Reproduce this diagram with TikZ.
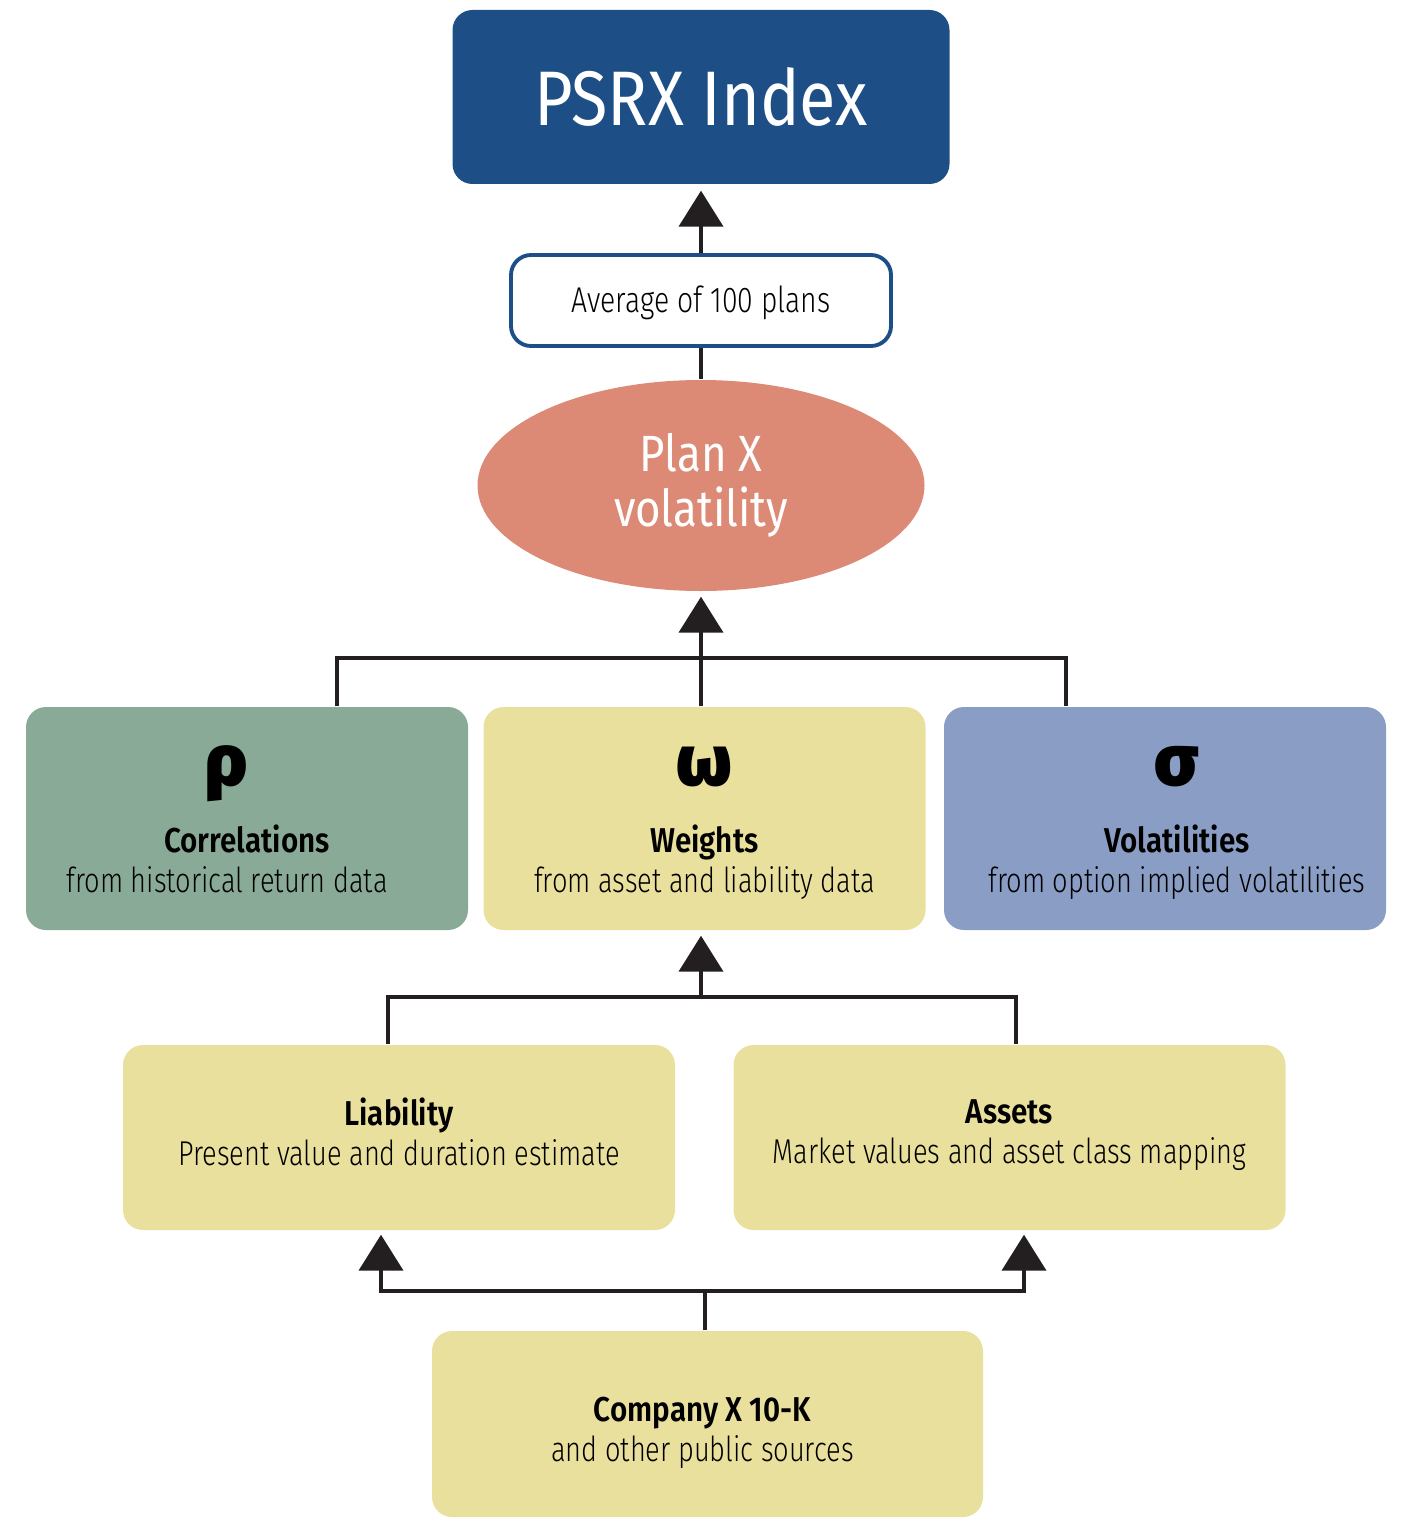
\documentclass[tikz,border=0pt]{standalone}
\usepackage{fontspec}
\setmainfont{Fira Sans}[FakeStretch=0.86, BoldFont=* SemiBold]
\newfontfamily\lightfont{Fira Sans Light}[FakeStretch=0.79]
\newfontfamily\greekfont{Fira Sans Black}
\usetikzlibrary{arrows.meta,shapes.geometric}

\begin{document}
\begin{tikzpicture}[>={Triangle[length=0.36cm,width=0.44cm]},
		box/.style={rounded corners=0.2cm, inner sep=0pt, align=center, text=black},
		conn/.style={draw=linedark, line width=1.2pt},
		title/.style={font=\fontsize{9.8}{11.4}\selectfont}]
		\definecolor{psrxblue}{RGB}{29,78,133}
		\definecolor{salmon}{RGB}{220,138,118}
		\definecolor{sage}{RGB}{138,170,152}
		\definecolor{straw}{RGB}{234,224,158}
		\definecolor{slate}{RGB}{138,157,196}
		\definecolor{linedark}{RGB}{35,31,32}
		\newcommand{\greekline}[1]{{\greekfont\fontsize{20.5}{20.5}\selectfont\rule{0pt}{15.1pt}#1\vphantom{ρ}}}
		\useasboundingbox (0,0) rectangle (14.24,-15.36);
		
		% top part
		\node[box, fill=psrxblue, text=white, minimum width=4.97cm, minimum height=1.74cm,
			font=\fontsize{22}{26}\selectfont] (psrx) at (7.01,-0.97) {PSRX Index};
		\node[box, fill=white, draw=psrxblue, line width=1.1pt, minimum width=3.80cm, minimum height=0.91cm,
			font=\lightfont\fontsize{10.2}{12}\selectfont] (avg) at (7.01,-3.005) {\rule[-3.6pt]{0pt}{14pt}Average of 100 plans};
		\node[ellipse, fill=salmon, text=white, inner sep=0pt, minimum width=4.47cm, minimum height=2.11cm,
			align=center, font=\fontsize{14.5}{15.6}\selectfont] (plan) at (7.01,-4.855) {Plan X\\volatility};
		
		% the three inputs (text of the outer two sits a bit off centre)
		\node[box, fill=sage, minimum width=4.42cm, minimum height=2.23cm, title] (corr) at (2.47,-8.185)
			{\greekline{ρ}\hspace*{0.4cm}\\[5.5pt]\textbf{Correlations}\hspace*{0.4cm}\\{\lightfont from historical return data\strut}\hspace*{0.4cm}};
		\node[box, fill=straw, minimum width=4.42cm, minimum height=2.23cm, title] (weights) at (7.045,-8.185)
			{\greekline{ω}\\[5.5pt]\textbf{Weights}\\{\lightfont from asset and liability data\strut}};
		\node[box, fill=slate, minimum width=4.42cm, minimum height=2.23cm, title] (vol) at (11.65,-8.185)
			{\hspace*{0.24cm}\greekline{σ}\\[5.5pt]\hspace*{0.24cm}\textbf{Volatilities}\\\hspace*{0.24cm}{\lightfont from option implied volatilities\strut}};
		
		% weights inputs
		\node[box, fill=straw, minimum width=5.52cm, minimum height=1.85cm, title] (liab) at (3.99,-11.375)
			{\textbf{Liability}\\{\lightfont Present value and duration estimate\strut}};
		\node[box, fill=straw, minimum width=5.52cm, minimum height=1.85cm, title] (assets) at (10.095,-11.375)
			{\textbf{Assets}\\{\lightfont Market values and asset class mapping\strut}};
		\node[box, fill=straw, minimum width=5.51cm, minimum height=1.86cm, title] (comp) at (7.075,-14.24)
			{\rule{0pt}{13.5pt}\textbf{Company X 10-K}\hspace*{0.1cm}\\{\lightfont and other public sources\strut}\hspace*{0.1cm}};
		
		% connectors
		\coordinate (j1) at (7.01,-6.58);
		\coordinate (j2) at (7.01,-9.97);
		\coordinate (j3) at (7.05,-12.91);
		\draw[conn, ->, shorten >=0.06cm] (avg.north) -- (psrx.south);
		\draw[conn] (avg.south) -- (plan.north);
		\draw[conn] ([xshift=0.9cm]corr.north) |- (j1) -| ([xshift=-0.99cm]vol.north);
		\draw[conn, ->, shorten >=0.05cm] (weights.north -| plan.south) -- (plan.south);
		\draw[conn] ([xshift=-0.11cm]liab.north) |- (j2) -| ([xshift=0.065cm]assets.north);
		\draw[conn, ->, shorten >=0.05cm] (j2) -- (j2 |- weights.south);
		\draw[conn] (comp.north -| j3) -- (j3);
		\draw[conn, <->, shorten <=0.04cm, shorten >=0.04cm] ([xshift=-0.18cm]liab.south) |- (j3) -| ([xshift=0.145cm]assets.south);
	\end{tikzpicture}
\end{document}
